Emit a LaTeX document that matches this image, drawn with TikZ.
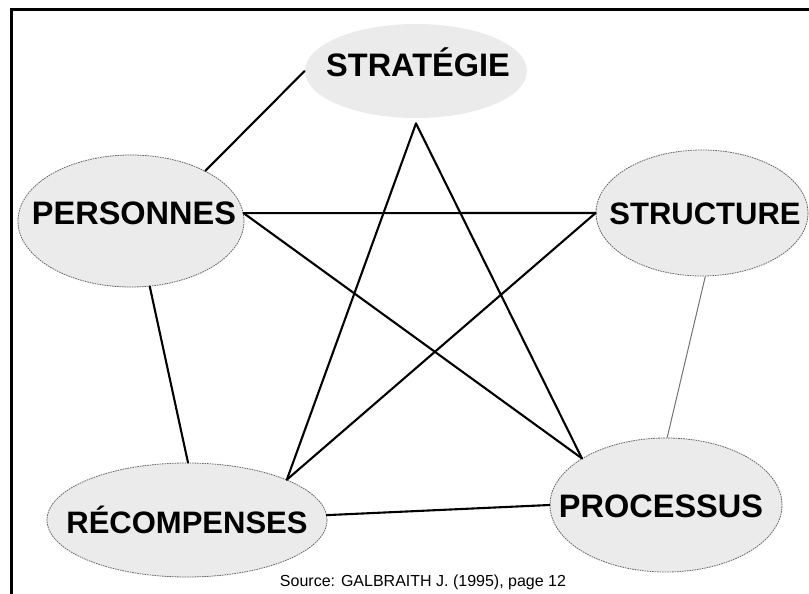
\documentclass[tikz,border=0pt]{standalone}
\usepackage{fontspec}
\setmainfont{Liberation Sans}
\usetikzlibrary{shapes.geometric}
\begin{document}
\begin{tikzpicture}[x=1pt,y=-1pt,
  blob/.style={ellipse,inner sep=0pt,fill=black!8,draw=black!60,
    line width=0.8pt,dash pattern=on 1.6pt off 0.9pt},
  softblob/.style={blob,draw=none},
  lbl/.style={anchor=base,inner sep=0pt,font=\fontsize{32.5}{32.5}\selectfont\bfseries},
  snuglbl/.style={lbl,font=\fontsize{31}{31}\selectfont\bfseries},
  link/.style={line width=2.1pt,line cap=round,black},
  faint/.style={line width=1pt,black!55}]
\useasboundingbox (0,0) rectangle (809,594);
\fill[white] (0,0) rectangle (809,594);

% frame
\draw[line width=2.6pt] (11.5,594) -- (11.5,9.5) -- (809,9.5);

% the five elements
\node[softblob,minimum width=222pt,minimum height=94pt] (strat) at (416,71) {};
\node[blob,minimum width=226pt,minimum height=132pt] (pers) at (131,221) {};
\node[blob,minimum width=212pt,minimum height=126pt] (struc) at (702,213) {};
\node[blob,minimum width=280pt,minimum height=114pt] (recomp) at (187,520) {};
\node[blob,minimum width=232pt,minimum height=134pt] (proc) at (666,505) {};

\node[lbl] (strat-t)  at (418,77)  {STRATÉGIE};
\node[lbl] (pers-t)   at (134,224) {PERSONNES};
\node[snuglbl] (struc-t)  at (705,224) {STRUCTURE};
\node[snuglbl] (recomp-t) at (187,533) {RÉCOMPENSES};
\node[lbl] (proc-t)   at (661,517) {PROCESSUS};

% outer links
\draw[link] (strat.west) -- (pers.34);
\draw[link] (pers.-74) -- (recomp.89);
\draw[link] (recomp.2) -- (proc.west);
\draw[faint] (struc.273) -- (proc.89);

% inner star
\draw[link] (pers.4) -- (struc.west);
\draw[link] (pers.4) -- (proc.151);
\draw[link] ([yshift=-5pt]strat.south) -- (recomp.22);
\draw[link] ([yshift=-5pt]strat.south) -- (proc.151);
\draw[link] (struc.west) -- (recomp.22);

% source
\node[anchor=base,inner sep=0pt,font=\fontsize{16}{16}\selectfont] (src) at (423,586)
  {Source: GALBRAITH J. (1995), page 12};
\end{tikzpicture}
\end{document}
